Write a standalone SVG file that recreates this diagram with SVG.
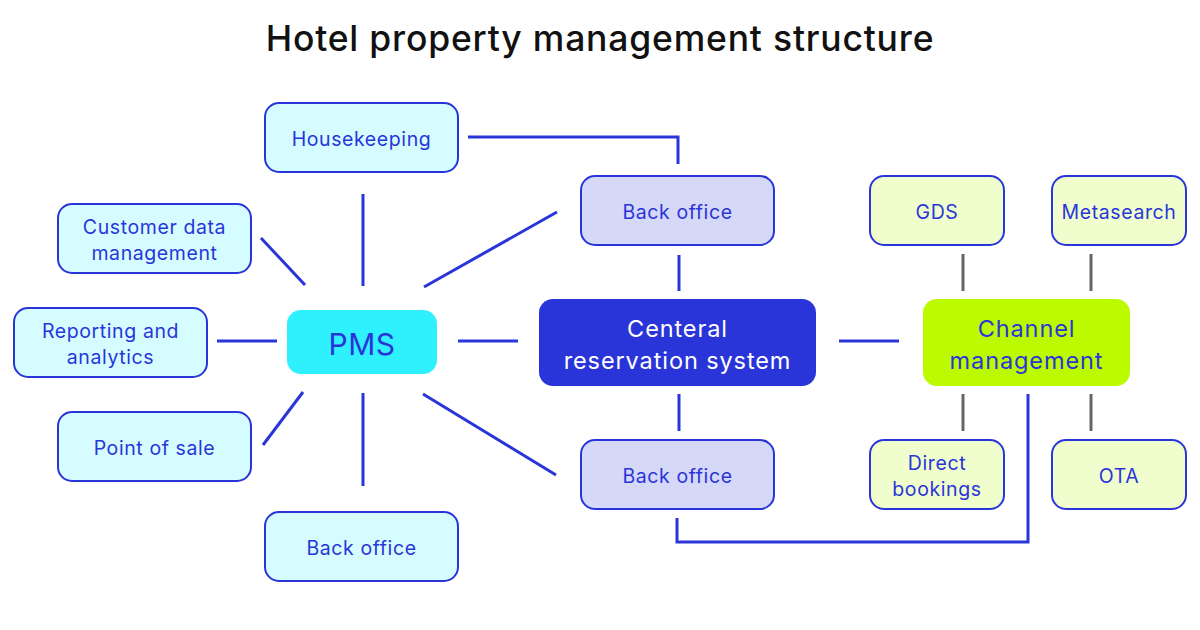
<svg xmlns="http://www.w3.org/2000/svg" width="1200" height="630" viewBox="0 0 1200 630">
<style>
.t{font-family:Inter,"Liberation Sans",sans-serif;text-anchor:middle;dominant-baseline:central}
.s{font-size:19.5px;letter-spacing:0.6px;fill:#2a35d9}
.big{font-size:23.5px;letter-spacing:0.9px}
.box{stroke:#2a35d9;stroke-width:2}
.c1{fill:#d5fcfe}
.c2{fill:#d6d8f7}
.c3{fill:#f0fdcc}
.ln{stroke:#2a35d9;stroke-width:3;fill:none}
.gl{stroke:#666;stroke-width:3;fill:none}
</style>
<rect width="1200" height="630" fill="#fff"/>
<text x="600" y="38" class="t" style="font-size:35.5px;font-weight:500;letter-spacing:0.8px;fill:#111">Hotel property management structure</text>
<g id="connectors">
<polyline class="ln" points="468,137 678,137 678,164"/>
<line class="ln" x1="363" y1="194" x2="363" y2="286"/>
<line class="ln" x1="261" y1="238" x2="305" y2="285"/>
<line class="ln" x1="217" y1="341" x2="277" y2="341"/>
<line class="ln" x1="263" y1="445" x2="303" y2="392"/>
<line class="ln" x1="363" y1="393" x2="363" y2="486"/>
<line class="ln" x1="424" y1="287" x2="557" y2="212"/>
<line class="ln" x1="423" y1="394" x2="556" y2="475"/>
<line class="ln" x1="458" y1="341" x2="518" y2="341"/>
<line class="ln" x1="679" y1="255" x2="679" y2="291"/>
<line class="ln" x1="679" y1="394" x2="679" y2="431"/>
<line class="ln" x1="839" y1="341" x2="899" y2="341"/>
<polyline class="ln" points="677,518 677,542 1028,542 1028,394"/>
<line class="gl" x1="963" y1="254" x2="963" y2="291"/>
<line class="gl" x1="1091" y1="254" x2="1091" y2="291"/>
<line class="gl" x1="963" y1="394" x2="963" y2="431"/>
<line class="gl" x1="1091" y1="394" x2="1091" y2="431"/>
</g>
<g id="housekeeping"><rect class="box c1" x="265" y="103" width="193" height="69" rx="14"/><text class="t s" x="361.5" y="139">Housekeeping</text></g>
<g id="customer-data"><rect class="box c1" x="58" y="204" width="193" height="69" rx="14"/><text class="t s" x="154.5" y="227">Customer data</text><text class="t s" x="154.5" y="253">management</text></g>
<g id="reporting"><rect class="box c1" x="14" y="308" width="193" height="69" rx="14"/><text class="t s" x="110.5" y="331">Reporting and</text><text class="t s" x="110.5" y="357">analytics</text></g>
<g id="pos"><rect class="box c1" x="58" y="412" width="193" height="69" rx="14"/><text class="t s" x="154.5" y="448">Point of sale</text></g>
<g id="back-office-pms"><rect class="box c1" x="265" y="512" width="193" height="69" rx="14"/><text class="t s" x="361.5" y="548">Back office</text></g>
<g id="pms"><rect x="287" y="310" width="150" height="64" rx="14" fill="#2ff0fd"/><text class="t" x="362" y="344" style="font-size:30px;letter-spacing:0.5px;fill:#2a35d9">PMS</text></g>
<g id="back-office-top"><rect class="box c2" x="581" y="176" width="193" height="69" rx="14"/><text class="t s" x="677.5" y="212">Back office</text></g>
<g id="back-office-bottom"><rect class="box c2" x="581" y="440" width="193" height="69" rx="14"/><text class="t s" x="677.5" y="476">Back office</text></g>
<g id="crs"><rect x="539" y="299" width="277" height="87" rx="14" fill="#2a35d9"/><text class="t big" x="677.5" y="328" fill="#fff">Centeral</text><text class="t big" x="677.5" y="360" fill="#fff">reservation system</text></g>
<g id="channel"><rect x="923" y="299" width="207" height="87" rx="14" fill="#bcfa00"/><text class="t big" x="1026.5" y="328" fill="#2a35d9">Channel</text><text class="t big" x="1026.5" y="360" fill="#2a35d9">management</text></g>
<g id="gds"><rect class="box c3" x="870" y="176" width="134" height="69" rx="14"/><text class="t s" x="937" y="212">GDS</text></g>
<g id="metasearch"><rect class="box c3" x="1052" y="176" width="134" height="69" rx="14"/><text class="t s" x="1119" y="212">Metasearch</text></g>
<g id="direct"><rect class="box c3" x="870" y="440" width="134" height="69" rx="14"/><text class="t s" x="937" y="463">Direct</text><text class="t s" x="937" y="489">bookings</text></g>
<g id="ota"><rect class="box c3" x="1052" y="440" width="134" height="69" rx="14"/><text class="t s" x="1119" y="476">OTA</text></g>
</svg>
